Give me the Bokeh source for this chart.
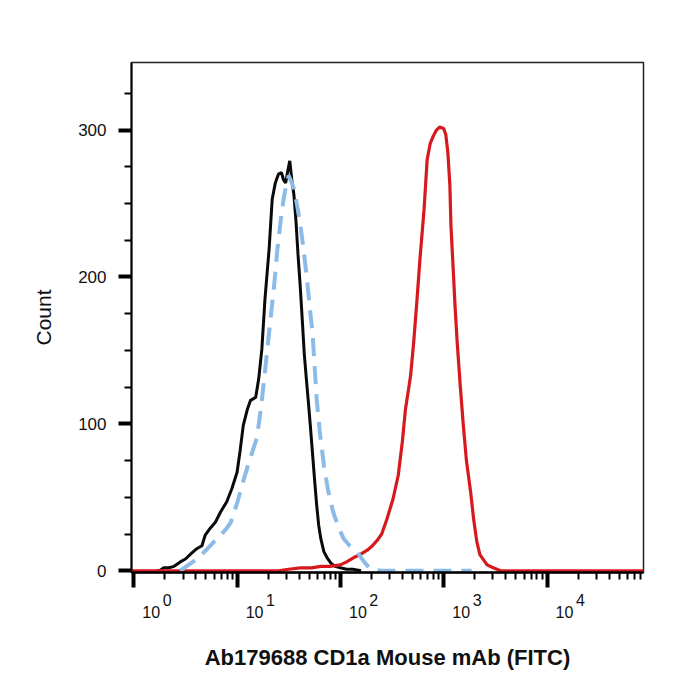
import numpy as np
from bokeh.plotting import figure
from bokeh.models import FixedTicker, LogAxis, Range1d, CustomJSTickFormatter
from bokeh.embed import file_html
from bokeh.resources import INLINE

# Histogram traces: log10 FITC intensity and event count per bin
black_log = [0.22, 0.25, 0.29, 0.34, 0.39, 0.45, 0.50, 0.56, 0.61, 0.66,
             0.69, 0.74, 0.79, 0.84, 0.90, 0.95, 1.00, 1.03, 1.06, 1.10,
             1.13, 1.18, 1.21, 1.24, 1.27, 1.31, 1.34, 1.37, 1.40, 1.43,
             1.45, 1.47, 1.49, 1.51, 1.53, 1.55, 1.57, 1.59, 1.61, 1.63,
             1.65, 1.67, 1.69, 1.71, 1.73, 1.75, 1.77, 1.79, 1.81, 1.84,
             1.87, 1.91, 1.95, 2.00, 2.06, 2.12, 2.20]
black_count = [0, 0, 2, 2, 3, 6, 8, 12, 15, 17,
               24, 29, 33, 40, 47, 56, 67, 82, 99, 110,
               116, 118, 131, 151, 185, 219, 253, 264, 270, 271,
               266, 264, 272, 279, 266, 256, 238, 215, 195, 172,
               148, 131, 115, 98, 80, 62, 45, 31, 22, 13,
               9, 5, 3, 2, 1, 1, 0]

blue_log = [0.45, 0.53, 0.61, 0.70, 0.78, 0.84, 0.90, 0.94, 1.00, 1.06,
            1.12, 1.19, 1.23, 1.26, 1.29, 1.32, 1.36, 1.39, 1.42, 1.45,
            1.48, 1.50, 1.53, 1.55, 1.58, 1.61, 1.65, 1.68, 1.71, 1.73,
            1.75, 1.77, 1.80, 1.84, 1.88, 1.93, 1.98, 2.03, 2.09, 2.16,
            2.22, 2.29, 2.40, 2.60, 2.80, 3.00, 3.27]
blue_count = [0, 4, 8, 14, 20, 24, 29, 33, 46, 61,
              75, 90, 110, 129, 149, 169, 195, 219, 237, 253,
              264, 269, 264, 260, 249, 237, 215, 196, 175, 162,
              140, 117, 95, 72, 55, 40, 30, 22, 17, 13,
              7, 1, 0, 0, 0, 0, 0]

red_log = [-0.03, 1.40, 1.50, 1.61, 1.72, 1.81, 1.90, 2.00, 2.06, 2.13,
           2.19, 2.26, 2.31, 2.36, 2.40, 2.45, 2.51, 2.56, 2.60, 2.63,
           2.68, 2.71, 2.74, 2.77, 2.81, 2.84, 2.87, 2.90, 2.93, 2.96,
           3.00, 3.02, 3.04, 3.06, 3.07, 3.09, 3.11, 3.13, 3.16, 3.19,
           3.22, 3.26, 3.29, 3.32, 3.35, 3.42, 3.48, 3.55, 4.95]
red_count = [0, 0, 1, 2, 2, 3, 3, 4, 6, 9,
             11, 14, 17, 21, 25, 35, 49, 65, 88, 110,
             133, 156, 183, 212, 246, 280, 291, 296, 300, 302,
             301, 297, 285, 262, 235, 208, 180, 156, 126, 99,
             75, 54, 35, 20, 11, 4, 2, 0, 0]

decade_exponents = [0, 1, 2, 3, 4]
count_ticks = [0, 100, 200, 300]
count_minor = [25, 50, 75, 125, 150, 175, 225, 250, 275, 325]

FONT = "Liberation Sans"
INK = "#111111"

X0_LOG, X1_LOG = -0.022, 4.934
Y0, Y1 = -1.2, 346
FRAME_W = 700 - 131 - 57
p = figure(width=700, height=700, x_axis_type="log",
           x_range=Range1d(10 ** X0_LOG, 10 ** X1_LOG),
           y_range=Range1d(Y0, Y1),
           output_backend="svg", toolbar_location=None,
           min_border_left=131, min_border_right=57,
           min_border_top=62, min_border_bottom=128)
p.grid.visible = False
p.background_fill_color = "white"
p.border_fill_color = "white"
p.outline_line_color = "#222222"
p.outline_line_width = 1.5

# traces
p.line(10 ** np.array(black_log), black_count, line_color="#0a0a0a", line_width=3)
p.line(10 ** np.array(red_log), red_count, line_color="#d7191e", line_width=3.2)
p.line(10 ** np.array(blue_log), blue_count, line_color="#8dbbe8", line_width=4,
       line_dash="18 10")

# x axis: decades as major ticks, 2..9 as minor ticks (tick marks only)
decades = [10.0 ** k for k in decade_exponents]
minors = [m * d for d in decades for m in range(2, 10)]
xa = p.xaxis[0]
xa.ticker = FixedTicker(ticks=decades, minor_ticks=minors)
xa.axis_line_width = 2.5
xa.axis_line_color = "black"
xa.major_tick_out = 15
xa.major_tick_in = 0
xa.major_tick_line_width = 4
xa.minor_tick_out = 7
xa.minor_tick_in = 0
xa.minor_tick_line_width = 2
xa.major_label_text_font_size = "1px"
xa.major_label_text_color = None
xa.major_label_standoff = 0

# decade labels: "10" a little right of each decade tick, exponent raised after it
px_per_decade = FRAME_W / (X1_LOG - X0_LOG)
def shifted(px):
    return [d * 10 ** (px / px_per_decade) for d in decades]

def label_axis(ticks, texts, standoff):
    return LogAxis(ticker=FixedTicker(ticks=ticks, minor_ticks=[]),
                   axis_line_color=None,
                   major_tick_line_color=None, minor_tick_line_color=None,
                   major_tick_out=0, major_tick_in=0, minor_tick_out=0, minor_tick_in=0,
                   major_label_standoff=standoff,
                   major_label_text_font=FONT, major_label_text_font_size="16px",
                   major_label_text_color=INK,
                   formatter=CustomJSTickFormatter(args=dict(texts=texts),
                                                   code="return texts[index]"))

exp_axis = label_axis(shifted(33.4), [str(k) for k in decade_exponents], 6)
p.add_layout(exp_axis, "below")
base_axis = label_axis(shifted(17.5), ["10"] * len(decades), -3)
base_axis.axis_label = "Ab179688 CD1a Mouse mAb (FITC)"
base_axis.axis_label_text_font = FONT
base_axis.axis_label_text_font_style = "bold"
base_axis.axis_label_text_font_size = "22px"
base_axis.axis_label_text_color = INK
base_axis.axis_label_standoff = 24
p.add_layout(base_axis, "below")

# y axis
ya = p.yaxis[0]
ya.ticker = FixedTicker(ticks=count_ticks, minor_ticks=count_minor)
ya.axis_line_width = 2
ya.axis_line_color = "black"
ya.major_tick_out = 13
ya.major_tick_in = 0
ya.major_tick_line_width = 4
ya.minor_tick_out = 7
ya.minor_tick_in = 0
ya.minor_tick_line_width = 2
ya.major_label_text_font = FONT
ya.major_label_text_font_size = "17px"
ya.major_label_text_color = INK
ya.major_label_standoff = 12
ya.axis_label = "Count"
ya.axis_label_text_font = FONT
ya.axis_label_text_font_style = "normal"
ya.axis_label_text_font_size = "21px"
ya.axis_label_text_color = INK
ya.axis_label_standoff = 20

open("out.html", "w").write(file_html(p, INLINE))
